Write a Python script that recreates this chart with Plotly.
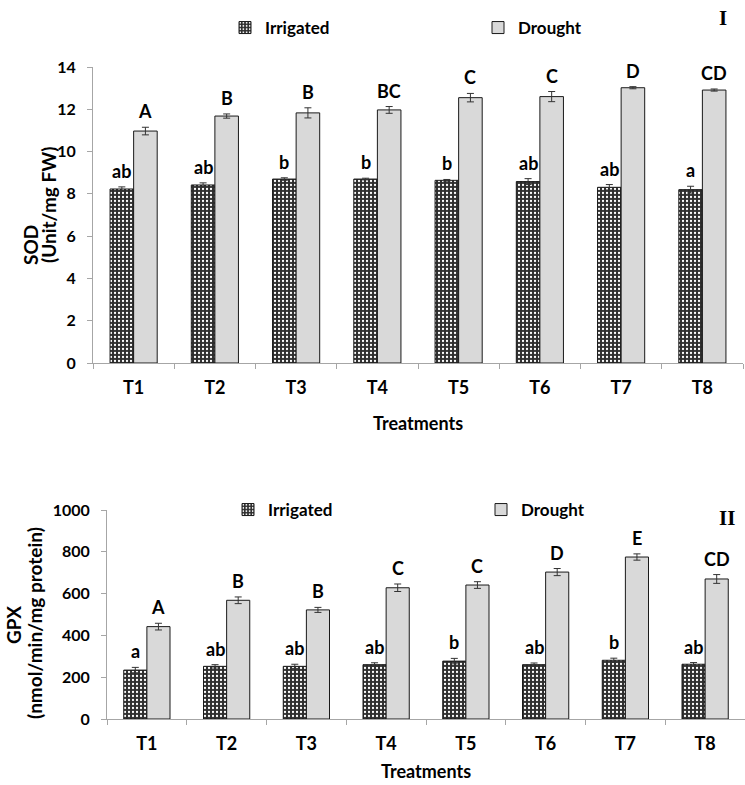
"""
SOD and GPX activity under irrigated / drought conditions, treatments T1-T8.
Two stacked grouped bar charts with error bars and significance letters.
"""

import plotly.graph_objects as go

# ============================================================================
# DATA
# ============================================================================

treatments = ["T1", "T2", "T3", "T4", "T5", "T6", "T7", "T8"]

# Panel I - SOD (Unit/mg FW)
sod_irrigated = [8.23, 8.42, 8.70, 8.70, 8.64, 8.58, 8.31, 8.20]
sod_irrigated_err = [0.10, 0.10, 0.06, 0.04, 0.04, 0.14, 0.13, 0.16]
sod_drought = [10.97, 11.68, 11.83, 11.97, 12.55, 12.60, 13.02, 12.91]
sod_drought_err = [0.18, 0.10, 0.24, 0.16, 0.20, 0.24, 0.05, 0.05]
sod_irrigated_letters = ["ab", "ab", "b", "b", "b", "ab", "ab", "a"]
sod_drought_letters = ["A", "B", "B", "BC", "C", "C", "D", "CD"]

# Panel II - GPX (nmol/min/mg protein)
gpx_irrigated = [234, 252, 252, 260, 277, 260, 281, 262]
gpx_irrigated_err = [13, 8, 10, 9, 13, 8, 10, 8]
gpx_drought = [442, 568, 522, 628, 641, 703, 775, 670]
gpx_drought_err = [16, 16, 12, 18, 16, 17, 15, 21]
gpx_irrigated_letters = ["a", "ab", "ab", "ab", "b", "ab", "b", "ab"]
gpx_drought_letters = ["A", "B", "B", "C", "C", "D", "E", "CD"]

# ============================================================================
# LAYOUT HELPERS
# ============================================================================

W, H = 745, 785
FONT = "Lato"
AXIS_GREY = "#a6a6a6"
BAR_GAP = 0.42
HALF = (1 - BAR_GAP) / 4  # offset of each bar centre from category centre


def px_x(x):
    return x / W


def px_y(y):
    return 1 - y / H


def add_panel(fig, n, irr, irr_err, dro, dro_err, irr_lab, dro_lab, legend):
    xa = "x" if n == 1 else f"x{n}"
    ya = "y" if n == 1 else f"y{n}"
    fig.add_trace(go.Bar(
        x=treatments, y=irr, name="Irrigated",
        xaxis=xa, yaxis=ya, legend=legend, offsetgroup="irr",
        marker=dict(
            color="#2e2e2e",
            line=dict(color="#1a1a1a", width=1),
            pattern=dict(shape=".", fgcolor="white", bgcolor="#2e2e2e",
                         size=4, solidity=0.25),
        ),
        error_y=dict(type="data", array=irr_err, color="#333333",
                     thickness=1, width=3.5),
    ))
    fig.add_trace(go.Bar(
        x=treatments, y=dro, name="Drought",
        xaxis=xa, yaxis=ya, legend=legend, offsetgroup="dro",
        marker=dict(color="#d9d9d9", line=dict(color="#1a1a1a", width=1)),
        error_y=dict(type="data", array=dro_err, color="#333333",
                     thickness=1, width=3.5),
    ))
    # significance letters above the error bars
    for i in range(len(treatments)):
        for val, err, lab, off in ((irr[i], irr_err[i], irr_lab[i], -HALF),
                                   (dro[i], dro_err[i], dro_lab[i], HALF)):
            fig.add_annotation(
                x=i + off, y=val + err, xref=xa, yref=ya,
                text=lab, showarrow=False, yanchor="bottom", yshift=3,
                font=dict(family=FONT, size=18, color="black", weight="bold"),
            )


fig = go.Figure()

add_panel(fig, 1, sod_irrigated, sod_irrigated_err, sod_drought, sod_drought_err,
          sod_irrigated_letters, sod_drought_letters, "legend")
add_panel(fig, 2, gpx_irrigated, gpx_irrigated_err, gpx_drought, gpx_drought_err,
          gpx_irrigated_letters, gpx_drought_letters, "legend2")

tick_font = dict(family=FONT, size=16, color="black", weight="bold")
xtick_font = dict(family=FONT, size=18, color="black", weight="bold")
title_font = dict(family=FONT, size=18, color="black", weight="bold")

xaxis_common = dict(
    type="category", tickson="boundaries", ticks="outside", ticklen=5,
    tickcolor=AXIS_GREY, showline=True, linecolor=AXIS_GREY, linewidth=1,
    showgrid=False, tickfont=xtick_font, ticklabelstandoff=8,
    automargin=False,
)
yaxis_common = dict(
    ticks="outside", ticklen=5, tickcolor=AXIS_GREY, showline=True,
    linecolor=AXIS_GREY, linewidth=1, showgrid=False, zeroline=False,
    tickfont=tick_font, ticklabelstandoff=8, automargin=False,
)

legend_common = dict(
    orientation="h", xanchor="left", yanchor="middle",
    font=dict(family=FONT, size=17, color="black", weight="bold"),
    entrywidth=208, entrywidthmode="pixels", bgcolor="rgba(0,0,0,0)",
)

fig.update_layout(
    template="none",
    width=W, height=H,
    margin=dict(l=0, r=0, t=0, b=0),
    paper_bgcolor="white", plot_bgcolor="white",
    barmode="group", bargap=BAR_GAP, bargroupgap=0,
    xaxis=dict(domain=[px_x(93), px_x(743)], anchor="y", **xaxis_common),
    yaxis=dict(domain=[px_y(363), px_y(67)], anchor="x",
               range=[0, 14], dtick=2, **yaxis_common),
    xaxis2=dict(domain=[px_x(107), px_x(745)], anchor="y2", **xaxis_common),
    yaxis2=dict(domain=[px_y(719), px_y(510)], anchor="x2",
                range=[0, 1000], dtick=200, **yaxis_common),
    legend=dict(x=px_x(225), y=px_y(28), **legend_common),
    legend2=dict(x=px_x(228), y=px_y(510), **legend_common),
    showlegend=True,
)

# axis titles and panel numerals
ytitle_font = dict(family=FONT, size=19, color="black", weight="bold")
for text, x, y in (("SOD", 31, 245), ("(Unit/mg FW)", 49, 205),
                   ("GPX", 13, 625), ("(nmol/min/mg protein)", 34, 623)):
    fig.add_annotation(x=px_x(x), y=px_y(y), xref="paper", yref="paper",
                       text=text, textangle=-90, showarrow=False,
                       xanchor="center", yanchor="middle", font=ytitle_font)

for x, y in ((418, 423), (426, 771)):
    fig.add_annotation(x=px_x(x), y=px_y(y), xref="paper", yref="paper",
                       text="Treatments", showarrow=False,
                       xanchor="center", yanchor="middle", font=title_font)

numeral_font = dict(family="Liberation Serif", size=21, color="black",
                    weight="bold")
for text, x, y in (("I", 723, 18), ("II", 727, 518)):
    fig.add_annotation(x=px_x(x), y=px_y(y), xref="paper", yref="paper",
                       text=text, showarrow=False, xanchor="center",
                       yanchor="middle", font=numeral_font)

# the page body has a default 8px margin; drop it so the figure fills the window
fig.write_html(
    "out.html",
    config={"displayModeBar": False},
    post_script="document.body.style.margin='0';"
                "document.body.style.overflow='hidden';",
)
